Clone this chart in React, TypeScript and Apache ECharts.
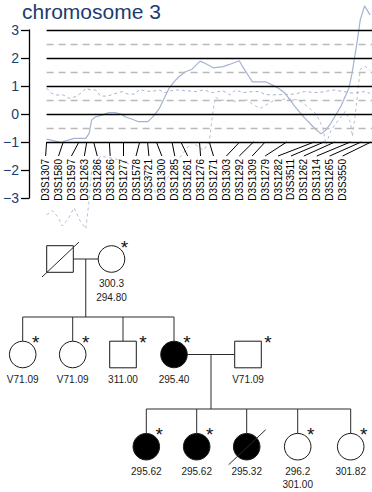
import React, { useEffect, useRef } from "react";
import * as echarts from "echarts";

const FONT = "'Liberation Sans', Arial, Helvetica, sans-serif";
const NAVY = "#1c3c6e";
const CURVE = "#a3b3d3";

// ---- linkage chart data ----
const markerNames = [
  "D3S1307", "D3S1580", "D3S1597", "D3S1263", "D3S1286", "D3S1266", "D3S1277", "D3S1578",
  "D3S3721", "D3S1300", "D3S1285", "D3S1261", "D3S1276", "D3S1271", "D3S1303", "D3S1292",
  "D3S1309", "D3S1279", "D3S1282", "D3S3511", "D3S1262", "D3S1314", "D3S1265", "D3S3550",
];
const markerPos = [0, 8.5, 16.5, 20.5, 24, 32, 39, 47.5, 51.5, 56, 64, 68.5, 78, 83, 98.5, 105.5, 111.5, 122.5, 136.5, 141.5, 147, 155, 160.5, 165.5];

const mainPos = [0, 3.3, 7.5, 10, 14.2, 20, 21.7, 23, 25, 28.3, 31.7, 35, 38.3, 40, 43.3, 46.7, 51.7, 55, 57.5, 60, 62.5, 65, 67.5, 70.8, 74.2, 78.3, 80.8, 85, 90, 93.3, 98.3, 100, 103.3, 105, 111.7, 115, 118.3, 121.7, 126.7, 131.7, 136.7, 140, 142.5, 145, 150, 154.2, 155.8, 158.3, 160, 162.2, 165];
const mainLod = [-0.9, -0.95, -1.02, -0.95, -0.87, -0.87, -0.69, -0.21, -0.1, -0.04, 0.05, 0.05, -0.01, -0.1, -0.18, -0.27, -0.27, -0.04, 0.2, 0.56, 0.92, 1.15, 1.33, 1.51, 1.6, 1.89, 1.81, 1.65, 1.69, 1.77, 1.9, 1.69, 1.33, 1.15, 1.15, 1.04, 0.92, 0.74, 0.26, -0.15, -0.51, -0.71, -0.57, -0.33, 0.26, 0.92, 1.45, 2.52, 3.36, 3.86, 3.54];

const upperPos = [0, 2.5, 5, 8.5, 11.5, 15, 18.5, 20, 22.5, 25, 27.5, 31, 34, 38.5, 41.5, 45, 47.5, 50, 53.5, 57.5, 60, 63.5, 66.5, 71.5, 76.5, 80, 85, 90, 93.5, 96.5, 100, 105, 108.5, 111.5, 115, 121.5, 126.5, 131.5, 138.5, 146.5, 151.5, 156.5, 161.5, 165];
const upperLod = [0.92, 0.74, 0.68, 0.68, 0.56, 0.62, 0.8, 0.92, 0.86, 0.86, 0.64, 0.64, 0.71, 0.8, 0.71, 0.71, 0.88, 0.83, 0.8, 0.86, 0.76, 0.83, 0.86, 0.83, 0.8, 0.86, 0.76, 0.83, 0.68, 0.86, 0.76, 0.8, 0.8, 0.7, 0.68, 0.7, 0.71, 0.8, 0.76, 0.86, 0.8, 0.74, 0.8, 0.74];

const lowerPos = [0, 3, 6, 8, 11, 14, 17, 20, 21.5, 23, 27.5, 35, 42.5, 50, 54, 57, 60, 67.5, 74, 80, 83, 84.5, 86, 89, 95, 102.5, 105, 109, 115, 122.5, 128.5, 132.5, 137.5, 141, 142.5, 145, 149, 152.5, 155, 156, 158, 160, 162.5, 165];
const lowerLod = [-3.6, -3.45, -3.7, -4.0, -3.75, -3.35, -3.8, -4.1, -3.2, -2.0, -1.5, -1.6, -1.8, -2.0, -2.5, -3.1, -2.5, -1.6, -1.0, -1.3, -1.0, -0.1, 0.6, 0.5, 0.45, 0.5, 0.35, 0.2, 0.45, 0.55, 0.5, 0.3, 0.0, -0.5, -1.1, -0.6, -0.2, 0.1, -0.3, -0.8, 0.3, 1.6, 1.7, 1.55];

const solidRefs = [3, 2, 1, 0, -1];
const dashedRefs = [2.5, 1.5, 0.5, -0.5];
const refStart = 0;
const refEnd = 166;

// label slots: evenly spaced along the axis (data units); leader lines drop to -1.5
const slotStart = -0.5;
const slotStep = 6.587;
const leaderBottom = -1.5;

// ---- pedigree data ----
const pedIds = ["I-1", "I-2", "II-1", "II-2", "II-3", "II-4", "II-5", "III-1", "III-2", "III-3", "III-4", "III-5"];
const pedSex = ["M", "F", "F", "F", "M", "F", "M", "F", "F", "F", "F", "F"];
const pedAffected = [false, false, false, false, false, true, false, true, true, true, false, false];
const pedDeceased = [true, false, false, false, false, false, false, false, false, true, false, false];
const pedStar = [false, true, true, true, true, true, true, true, true, false, true, true];
const pedCodes = [[], ["300.3", "294.80"], ["V71.09"], ["V71.09"], ["311.00"], ["295.40"], ["V71.09"], ["295.62"], ["295.62"], ["295.32"], ["296.2", "301.00"], ["301.82"]];
const couples = [[0, 1], [5, 6]];
const sibships = [[2, 3, 4, 5], [7, 8, 9, 10, 11]];

// layout (pixels)
const pedX = [60, 111.5, 22.7, 72.7, 123, 174, 248, 146.3, 196.7, 246.7, 297.7, 350.7];
const pedY = [259, 259, 354.5, 354.5, 354.5, 354.5, 354.5, 446.7, 446.7, 446.7, 446.7, 446.7];
const sibY = [317, 409];

function buildPedigree() {
  const R = 13.3;
  const els: any[] = [];
  const line = (x1: number, y1: number, x2: number, y2: number) => ({
    type: "line",
    shape: { x1, y1, x2, y2 },
    style: { stroke: "#2a2a2a", lineWidth: 1 },
    silent: true,
  });
  couples.forEach((c, k) => {
    const [a, b] = c;
    const y = pedY[a];
    const xa = pedX[a] + R;
    const xb = pedX[b] - R;
    els.push(line(xa, y, xb, y));
    const mx = (xa + xb) / 2;
    els.push(line(mx, y, mx, sibY[k]));
    const kids = sibships[k];
    const xs = kids.map((i) => pedX[i]);
    els.push(line(Math.min(...xs), sibY[k], Math.max(...xs), sibY[k]));
    kids.forEach((i) => els.push(line(pedX[i], sibY[k], pedX[i], pedY[i] - R)));
  });
  pedIds.forEach((id, i) => {
    const cx = pedX[i];
    const cy = pedY[i];
    const fill = pedAffected[i] ? "#000" : "#fff";
    if (pedSex[i] === "M") {
      els.push({ type: "rect", shape: { x: cx - R, y: cy - R, width: 2 * R, height: 2 * R }, style: { fill, stroke: "#1a1a1a", lineWidth: 1 }, silent: true });
    } else {
      els.push({ type: "circle", shape: { cx, cy, r: R }, style: { fill, stroke: "#1a1a1a", lineWidth: 1 }, silent: true });
    }
    if (pedDeceased[i]) els.push(line(cx - 18, cy + 18, cx + 19, cy - 17));
    if (pedStar[i]) {
      els.push({
        type: "text",
        x: cx + (pedSex[i] === "M" ? 20 : 13),
        y: cy - 12,
        style: { text: "*", fontSize: 19, fontFamily: FONT, fill: "#111", align: "center", verticalAlign: "middle" },
        silent: true,
      });
    }
    pedCodes[i].forEach((t, k) => {
      els.push({
        type: "text",
        x: cx,
        y: cy + 24.5 + k * 13.5,
        style: { text: t, fontSize: 10, fontFamily: FONT, fill: "#1a1a1a", align: "center", verticalAlign: "middle" },
        silent: true,
      });
    });
  });
  return els;
}

export default function App() {
  const ref = useRef<HTMLDivElement>(null);
  useEffect(() => {
    if (!ref.current) return;
    const chart = echarts.init(ref.current, undefined, { renderer: "svg" });
    const refLines = [
      ...solidRefs.map((v) => [
        { coord: [refStart, v], lineStyle: { color: "#000", width: 1.3, type: "solid" } },
        { coord: [refEnd, v] },
      ]),
      ...dashedRefs.map((v) => [
        { coord: [refStart, v], lineStyle: { color: "#b9b9b9", width: 1.3, type: [7, 5] } },
        { coord: [refEnd, v] },
      ]),
    ];
    const slots = markerNames.map((_, i) => slotStart + i * slotStep);
    const option: any = {
      animation: false,
      grid: { left: 22, top: 30, width: 350, height: 168, containLabel: false },
      xAxis: { type: "value", min: -9, max: 166, show: false },
      yAxis: {
        type: "value",
        min: -3,
        max: 3,
        interval: 1,
        axisLine: { show: true, onZero: false, lineStyle: { color: "#000", width: 1.3 } },
        axisTick: { show: true, length: 8, inside: false, lineStyle: { color: "#000", width: 1.3 } },
        axisLabel: {
          show: true,
          margin: 10,
          color: NAVY,
          fontSize: 14,
          fontFamily: FONT,
          formatter: (v: number) => String(v).replace("-", "\u2212"),
        },
        splitLine: { show: false },
      },
      graphic: {
        elements: [
          {
            type: "text",
            x: 22,
            y: 11,
            style: { text: "chromosome 3", fontSize: 21, fontFamily: FONT, fill: NAVY, align: "left", verticalAlign: "middle" },
            silent: true,
          },
          ...buildPedigree(),
        ],
      },
      series: [
        {
          name: "ref",
          type: "line",
          data: markerPos.map((p) => [p, -1]),
          showSymbol: false,
          lineStyle: { opacity: 0 },
          silent: true,
          z: 1,
          markLine: { silent: true, symbol: "none", label: { show: false }, data: refLines },
        },
        {
          name: "leaders",
          type: "lines",
          coordinateSystem: "cartesian2d",
          silent: true,
          z: 5,
          lineStyle: { color: "#000", width: 1, opacity: 1, curveness: 0 },
          data: markerPos.map((p, i) => ({ coords: [[p, -1], [slots[i], leaderBottom]] })),
        },
        {
          name: "lower",
          type: "line",
          data: lowerPos.map((p, i) => [p, lowerLod[i]]),
          showSymbol: false,
          clip: false,
          silent: true,
          lineStyle: { color: "#b3c0dc", width: 1, type: [3, 3] },
          z: 3,
        },
        {
          name: "upper",
          type: "line",
          data: upperPos.map((p, i) => [p, upperLod[i]]),
          showSymbol: false,
          clip: false,
          silent: true,
          lineStyle: { color: CURVE, width: 1, type: [3, 3] },
          z: 3,
        },
        {
          name: "main",
          type: "line",
          data: mainPos.map((p, i) => [p, mainLod[i]]),
          showSymbol: false,
          clip: false,
          silent: true,
          lineStyle: { color: CURVE, width: 1.2 },
          z: 4,
        },
        {
          name: "markers",
          type: "custom",
          coordinateSystem: "cartesian2d",
          clip: false,
          silent: true,
          z: 5,
          data: slots.map((s, i) => [s, leaderBottom, i]),
          encode: { x: 0, y: 1 },
          renderItem: (params: any, api: any) => {
            const i = api.value(2);
            const pt = api.coord([api.value(0), api.value(1)]);
            return {
              type: "text",
              x: pt[0],
              y: pt[1] + 3,
              rotation: Math.PI / 2,
              style: { text: markerNames[i], fontSize: 10, fontFamily: FONT, fill: "#000", align: "right", verticalAlign: "middle" },
            };
          },
        },
      ],
    };
    chart.setOption(option);
    return () => chart.dispose();
  }, []);
  return <div ref={ref} style={{ position: "absolute", left: 0, top: 0, width: 372, height: 492 }} />;
}
